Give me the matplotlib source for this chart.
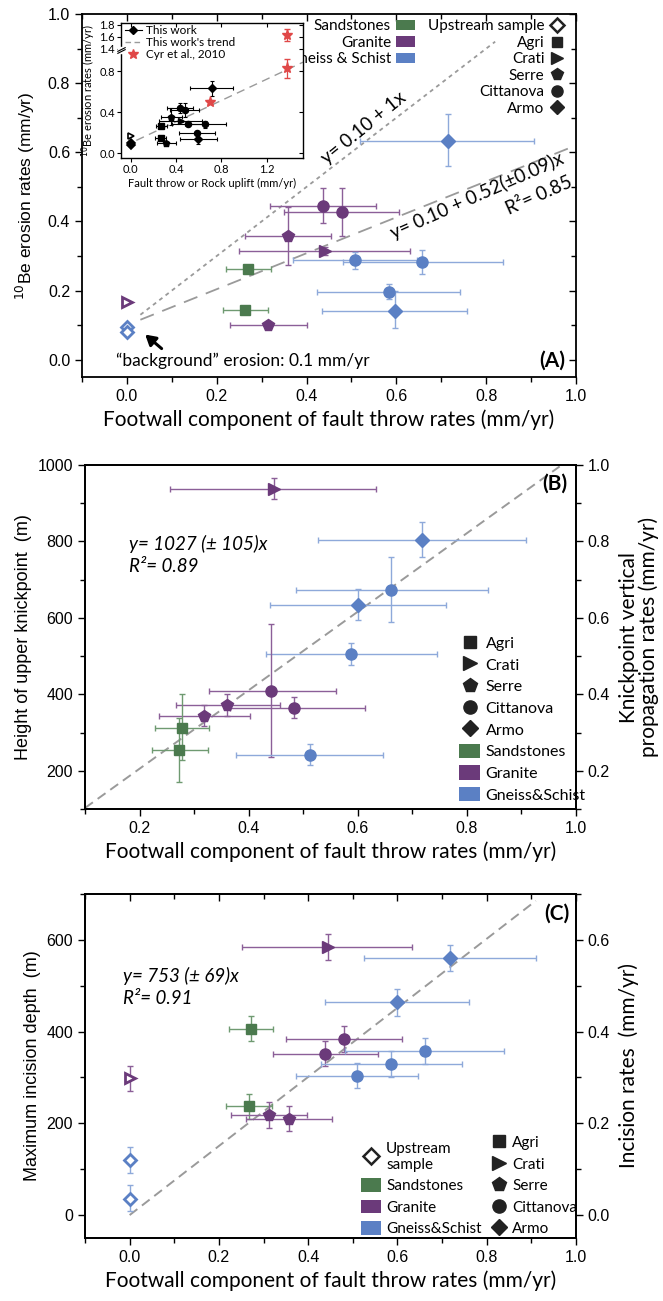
import numpy as np
import matplotlib
matplotlib.use("Agg")
import matplotlib.pyplot as plt
from matplotlib.patches import Patch
from matplotlib.lines import Line2D
from matplotlib.ticker import MultipleLocator, FixedLocator

plt.rcParams['font.family'] = ['Liberation Sans', 'DejaVu Sans']
MY = ['Lato', 'DejaVu Sans']   # stand-in for Myriad

# ---------------- data ----------------
# panel A: 10Be erosion rates vs footwall throw rate
a_x = [0.715, 0.436, 0.479, 0.359, 0.441, 0.507, 0.657, 0.269, 0.584, 0.597, 0.264, 0.315]
a_xlo = [0.52, 0.318, 0.35, 0.264, 0.249, 0.369, 0.481, 0.22, 0.423, 0.435, 0.214, 0.23]
a_xhi = [0.907, 0.554, 0.606, 0.455, 0.63, 0.645, 0.837, 0.32, 0.742, 0.758, 0.315, 0.40]
a_y = [0.634, 0.445, 0.426, 0.358, 0.315, 0.289, 0.282, 0.263, 0.197, 0.14, 0.145, 0.099]
a_ylo = [0.561, 0.395, 0.358, 0.274, 0.303, 0.263, 0.248, 0.253, 0.176, 0.092, 0.137, 0.092]
a_yhi = [0.71, 0.496, 0.496, 0.441, 0.327, 0.313, 0.316, 0.273, 0.218, 0.2, 0.153, 0.106]
a_rock = ['Gneiss', 'Granite', 'Granite', 'Granite', 'Granite', 'Gneiss', 'Gneiss',
          'Sandstones', 'Gneiss', 'Gneiss', 'Sandstones', 'Granite']
a_site = ['Armo', 'Cittanova', 'Cittanova', 'Serre', 'Crati', 'Cittanova', 'Cittanova',
          'Agri', 'Cittanova', 'Armo', 'Agri', 'Serre']
# upstream samples (x = 0)
a_up_y = [0.167, 0.096, 0.080]
a_up_rock = ['Granite', 'Gneiss', 'Gneiss']
a_up_site = ['Crati', 'Armo', 'Armo']

# inset: Cyr et al., 2010
cyr_x = [0.70, 1.38, 1.38]
cyr_y = [0.50, 0.83, 1.63]
cyr_yerr = [0.02, 0.09, 0.10]

# panel B: height of upper knickpoint
b_x = [0.446, 0.717, 0.661, 0.600, 0.588, 0.441, 0.361, 0.484, 0.318, 0.277, 0.272, 0.512]
b_xlo = [0.256, 0.527, 0.486, 0.439, 0.432, 0.327, 0.266, 0.365, 0.235, 0.228, 0.222, 0.377]
b_xhi = [0.634, 0.909, 0.838, 0.761, 0.745, 0.56, 0.457, 0.613, 0.402, 0.327, 0.325, 0.647]
b_y = [937, 804, 674, 635, 506, 409, 373, 365, 343, 313, 255, 242]
b_ylo = [910, 759, 589, 594, 478, 236, 343, 337, 316, 229, 170, 215]
b_yhi = [965, 850, 759, 676, 535, 583, 402, 394, 371, 400, 339, 270]
b_rock = ['Granite', 'Gneiss', 'Gneiss', 'Gneiss', 'Gneiss', 'Granite', 'Granite',
          'Granite', 'Granite', 'Sandstones', 'Sandstones', 'Gneiss']
b_site = ['Crati', 'Armo', 'Cittanova', 'Armo', 'Cittanova', 'Cittanova', 'Serre',
          'Cittanova', 'Serre', 'Agri', 'Agri', 'Cittanova']

# panel C: maximum incision depth
c_x = [0.444, 0.717, 0.599, 0.273, 0.481, 0.438, 0.661, 0.586, 0.509, 0.267, 0.313, 0.356]
c_xlo = [0.252, 0.526, 0.438, 0.222, 0.351, 0.321, 0.483, 0.429, 0.372, 0.217, 0.228, 0.261]
c_xhi = [0.632, 0.911, 0.76, 0.322, 0.61, 0.556, 0.839, 0.744, 0.647, 0.319, 0.397, 0.453]
c_y = [584, 560, 464, 406, 384, 352, 357, 330, 304, 237, 219, 210]
c_ylo = [556, 533, 435, 379, 355, 324, 329, 302, 277, 210, 190, 183]
c_yhi = [612, 588, 493, 435, 413, 379, 385, 357, 332, 264, 247, 237]
c_rock = ['Granite', 'Gneiss', 'Gneiss', 'Sandstones', 'Granite', 'Granite', 'Gneiss',
          'Gneiss', 'Gneiss', 'Sandstones', 'Granite', 'Granite']
c_site = ['Crati', 'Armo', 'Armo', 'Agri', 'Cittanova', 'Cittanova', 'Cittanova',
          'Cittanova', 'Cittanova', 'Agri', 'Serre', 'Serre']
c_up_y = [299, 120, 36]
c_up_ylo = [271, 92, 9]
c_up_yhi = [326, 148, 65]
c_up_rock = ['Granite', 'Gneiss', 'Gneiss']
c_up_site = ['Crati', 'Armo', 'Armo']

# fits
slope_a, icpt_a = 0.52, 0.10
slope_b = 1027
slope_c = 753

# ---------------- styles ----------------
col = {'Sandstones': '#4b7a4e', 'Granite': '#6b3a7a', 'Gneiss': '#5b80c4'}
ecol = {'Sandstones': '#6f9a71', 'Granite': '#8b5f98', 'Gneiss': '#8ea9da'}
mk = {'Agri': 's', 'Crati': '>', 'Serre': 'p', 'Cittanova': 'o', 'Armo': 'D'}
ms = {'Agri': 7.5, 'Crati': 8, 'Serre': 8.5, 'Cittanova': 8, 'Armo': 7}

W, H = 663, 1301


def rect(l, r, t, b):
    return [l / W, 1 - b / H, (r - l) / W, (b - t) / H]


def draw_points(ax, x, xlo, xhi, y, ylo, yhi, rock, site, mono=None, scale=1.0, lw=1.0):
    for i in range(len(x)):
        xe = [[x[i] - xlo[i]], [xhi[i] - x[i]]] if xlo is not None else None
        ye = [[y[i] - ylo[i]], [yhi[i] - y[i]]] if ylo is not None else None
        ec = mono if mono else ecol[rock[i]]
        fc = mono if mono else col[rock[i]]
        ax.errorbar([x[i]], [y[i]], xerr=xe, yerr=ye, fmt='none', ecolor=ec,
                    elinewidth=lw, capsize=2.5 * scale, capthick=lw, zorder=2)
        ax.plot([x[i]], [y[i]], marker=mk[site[i]], ms=ms[site[i]] * scale, mfc=fc,
                mec=fc, ls='none', zorder=3)


def draw_upstream(ax, y, ylo, yhi, rock, site):
    for i in range(len(y)):
        c = col[rock[i]]
        if ylo is not None:
            ax.errorbar([0], [y[i]], yerr=[[y[i] - ylo[i]], [yhi[i] - y[i]]], fmt='none',
                        ecolor=ecol[rock[i]], elinewidth=1.0, capsize=2.5, zorder=2)
        ax.plot([0], [y[i]], marker=mk[site[i]], ms=ms[site[i]] - 0.5, mfc='white',
                mec=c, mew=2.0, ls='none', zorder=3)


def style_ticks(ax):
    ax.tick_params(which='both', direction='out', labelsize=11.5, width=1.0)
    ax.tick_params(which='major', length=5)
    ax.tick_params(which='minor', length=3.5)
    for s in ax.spines.values():
        s.set_linewidth(1.3)


XLAB = 'Footwall component of fault throw rates (mm/yr)'
LEGSIZE = 11.5
fig = plt.figure(figsize=(6.63, 13.01), dpi=100)

# ======================= panel A =======================
axA = fig.add_axes(rect(82, 576, 14, 377))
axA.set_xlim(-0.1, 1.0)
axA.set_ylim(-0.05, 1.0)
xx = np.array([0.03, 0.82])
axA.plot(xx, icpt_a + 1.0 * xx, color='#9a9a9a', lw=1.3, ls=(0, (2.2, 2.2)), zorder=1)
xx = np.array([0.03, 1.0])
axA.plot(xx, icpt_a + slope_a * xx, color='#9a9a9a', lw=1.3, ls=(0, (8, 5)), zorder=1)
draw_points(axA, a_x, a_xlo, a_xhi, a_y, a_ylo, a_yhi, a_rock, a_site)
draw_upstream(axA, a_up_y, None, None, a_up_rock, a_up_site)

axA.xaxis.set_major_locator(MultipleLocator(0.2))
axA.xaxis.set_minor_locator(MultipleLocator(0.1))
axA.yaxis.set_major_locator(MultipleLocator(0.2))
axA.yaxis.set_minor_locator(MultipleLocator(0.1))
axA.xaxis.set_major_formatter(plt.FormatStrFormatter('%.1f'))
axA.yaxis.set_major_formatter(plt.FormatStrFormatter('%.1f'))
style_ticks(axA)
axA.tick_params(which='both', top=True, right=True)
axA.set_xlabel(XLAB, family=MY, fontsize=15, labelpad=4)
axA.set_ylabel(r'$^{10}$Be erosion rates (mm/yr)', fontsize=12.5, labelpad=8)
# inward ticks on top/right
for t in axA.xaxis.get_major_ticks() + axA.xaxis.get_minor_ticks():
    t.tick2line.set_marker(3)
for t in axA.yaxis.get_major_ticks() + axA.yaxis.get_minor_ticks():
    t.tick2line.set_marker(0)

axA.text(0.528, 0.67, 'y= 0.10 + 1x', family=MY, fontsize=13.5, rotation=39,
         ha='center', va='center')
axA.text(0.78, 0.475, 'y= 0.10 + 0.52(±0.09)x', family=MY, fontsize=13.5, rotation=24,
         ha='center', va='center')
axA.text(0.918, 0.476, 'R²= 0.85', family=MY, fontsize=13.5, rotation=24,
         ha='center', va='center')
axA.annotate('', xy=(0.036, 0.078), xytext=(0.082, 0.027),
             arrowprops=dict(arrowstyle='-|>,head_width=0.35,head_length=0.6', color='k', lw=2.2))
axA.text(-0.025, -0.003, '“background” erosion: 0.1 mm/yr', family=MY, fontsize=12.5,
         ha='left', va='center')
axA.text(0.975, -0.003, '(A)', family=MY, fontsize=15, fontweight='bold',
         ha='right', va='center')

leg1 = axA.legend(handles=[Patch(fc=col[k], ec='none') for k in ['Sandstones', 'Granite', 'Gneiss']],
                  labels=['Sandstones', 'Granite', 'Gneiss & Schist'], markerfirst=False,
                  loc='upper right', bbox_to_anchor=(0.675, 0.985), frameon=False,
                  prop={'family': MY, 'size': 11}, handlelength=1.3, handleheight=0.7,
                  handletextpad=0.3, labelspacing=0.16, borderpad=0, borderaxespad=0)
axA.add_artist(leg1)
h2 = [Line2D([], [], marker='D', ls='none', mfc='white', mec='#222222', mew=1.8, ms=7)]
h2 += [Line2D([], [], marker=mk[s], ls='none', color='#222222', ms=ms[s])
       for s in ['Agri', 'Crati', 'Serre', 'Cittanova', 'Armo']]
axA.legend(handles=h2, labels=['Upstream sample', 'Agri', 'Crati', 'Serre', 'Cittanova', 'Armo'],
           markerfirst=False, loc='upper right', bbox_to_anchor=(0.975, 0.985), frameon=False,
           prop={'family': MY, 'size': 11}, handlelength=0.9, handletextpad=0.35,
           labelspacing=0.16, borderpad=0, borderaxespad=0)

# ----------------------- inset -----------------------
def fwd(y):
    y = np.asarray(y, dtype=float)
    return np.where(y < 1.0, y, np.where(y < 1.4, 1.0 + (y - 1.0) * 0.05, 1.02 + (y - 1.4) * 0.585))


def inv(u):
    u = np.asarray(u, dtype=float)
    return np.where(u < 1.0, u, np.where(u < 1.02, 1.0 + (u - 1.0) / 0.05, 1.4 + (u - 1.02) / 0.585))


axI = fig.add_axes(rect(121, 303, 23, 158))
axI.set_yscale('function', functions=(fwd, inv))
axI.set_xlim(-0.085, 1.52)
axI.set_ylim(-0.046, 1.833)
xx = np.array([0.05, 1.52])
axI.plot(xx, icpt_a + slope_a * xx, color='#9a9a9a', lw=1.0, ls=(0, (6, 4)), zorder=1)
draw_points(axI, a_x, a_xlo, a_xhi, a_y, a_ylo, a_yhi, a_rock, a_site, mono='k',
            scale=0.55, lw=0.8)
for i in range(len(a_up_y)):
    face = 'white' if a_up_site[i] == 'Crati' else 'k'
    axI.plot([0], [a_up_y[i]], marker=mk[a_up_site[i]], ms=4.5, mfc=face, mec='k', mew=1.2,
             ls='none', zorder=3)
axI.errorbar(cyr_x, cyr_y, yerr=cyr_yerr, fmt='none', ecolor='#e04848', elinewidth=0.9,
             capsize=2, zorder=2)
axI.plot(cyr_x, cyr_y, marker='*', ms=8, color='#e04848', ls='none', zorder=3)
axI.xaxis.set_major_locator(FixedLocator([0.0, 0.4, 0.8, 1.2]))
axI.yaxis.set_major_locator(FixedLocator([0.0, 0.4, 0.8, 1.4, 1.6, 1.8]))
axI.yaxis.set_minor_locator(FixedLocator([]))
axI.xaxis.set_major_formatter(plt.FormatStrFormatter('%.1f'))
axI.yaxis.set_major_formatter(plt.FormatStrFormatter('%.1f'))
axI.tick_params(which='both', direction='out', labelsize=8, length=3, width=0.8, pad=1.5,
                top=True, right=True)
for t in axI.xaxis.get_major_ticks():
    t.tick2line.set_marker(3)
for t in axI.yaxis.get_major_ticks():
    t.tick2line.set_marker(0)
for lab in axI.get_xticklabels() + axI.get_yticklabels():
    lab.set_family(MY)
for s in axI.spines.values():
    s.set_linewidth(1.0)
axI.set_xlabel('Fault throw or Rock uplift (mm/yr)', family=MY, fontsize=8, labelpad=2)
axI.set_ylabel(r'$^{10}$Be erosion rates (mm/yr)', family=MY, fontsize=8, labelpad=1)
# axis break mark
ytr = axI.get_yaxis_transform()
axI.plot([0], [1.2], marker='s', ms=4, mfc='white', mec='white', transform=ytr,
         clip_on=False, zorder=5)
for off in (1.09, 1.33):
    axI.plot([0], [off], marker=[(-1, -0.5), (1, 0.5)], ms=6, mec='k', mew=0.8,
             transform=ytr, clip_on=False, zorder=6)
hI = [Line2D([], [], marker='D', color='k', ms=4.5, ls='-', lw=0.8),
      Line2D([], [], color='#9a9a9a', ls=(0, (4, 2.5)), lw=1.0),
      Line2D([], [], marker='*', color='#e04848', ms=7, ls='none')]
axI.legend(handles=hI, labels=['This work', "This work's trend", 'Cyr et al., 2010'],
           loc='upper left', bbox_to_anchor=(0.02, 0.985), frameon=False,
           prop={'family': MY, 'size': 8.5}, handlelength=1.5, handletextpad=0.3,
           labelspacing=0.1, borderpad=0, borderaxespad=0)

# ======================= panel B =======================
axB = fig.add_axes(rect(85, 576, 465, 809))
axB.set_xlim(0.1, 1.0)
axB.set_ylim(100, 1000)
xx = np.array([0.1, 0.97])
axB.plot(xx, slope_b * xx, color='#9a9a9a', lw=1.4, ls=(0, (5, 3)), zorder=1)
draw_points(axB, b_x, b_xlo, b_xhi, b_y, b_ylo, b_yhi, b_rock, b_site)
axB.xaxis.set_major_locator(MultipleLocator(0.2))
axB.xaxis.set_minor_locator(MultipleLocator(0.1))
axB.yaxis.set_major_locator(MultipleLocator(200))
axB.yaxis.set_minor_locator(MultipleLocator(100))
axB.xaxis.set_major_formatter(plt.FormatStrFormatter('%.1f'))
style_ticks(axB)
axB.set_xlabel(XLAB, family=MY, fontsize=15, labelpad=4)
axB.set_ylabel('Height of upper knickpoint  (m)', fontsize=13, labelpad=4)
axB.text(0.18, 793, 'y= 1027 (± 105)x', family=MY, fontsize=13.5, style='italic',
         ha='left', va='center')
axB.text(0.18, 735, 'R²= 0.89', family=MY, fontsize=13.5, style='italic',
         ha='left', va='center')
axB.text(0.985, 952, '(B)', family=MY, fontsize=15, fontweight='bold', ha='right', va='center')
axBr = axB.twinx()
axBr.set_ylim(0.1, 1.0)
axBr.yaxis.set_major_locator(MultipleLocator(0.2))
axBr.yaxis.set_minor_locator(MultipleLocator(0.1))
axBr.yaxis.set_major_formatter(plt.FormatStrFormatter('%.1f'))
style_ticks(axBr)
axBr.set_ylabel('Knickpoint vertical\npropagation rates (mm/yr)', family=MY, fontsize=15,
                linespacing=1.0, labelpad=6)
hB = [Line2D([], [], marker=mk[s], ls='none', color='#222222', ms=ms[s] + 1.5)
      for s in ['Agri', 'Crati', 'Serre', 'Cittanova', 'Armo']]
hB += [Patch(fc=col[k], ec='none') for k in ['Sandstones', 'Granite', 'Gneiss']]
axB.legend(handles=hB, labels=['Agri', 'Crati', 'Serre', 'Cittanova', 'Armo', 'Sandstones',
                               'Granite', 'Gneiss&Schist'],
           loc='upper left', bbox_to_anchor=(0.762, 0.505), frameon=False,
           prop={'family': MY, 'size': LEGSIZE}, handlelength=1.3, handleheight=1.0,
           handletextpad=0.35, labelspacing=0.38, borderpad=0, borderaxespad=0)

# ======================= panel C =======================
axC = fig.add_axes(rect(85, 576, 894, 1238))
axC.set_xlim(-0.1, 1.0)
axC.set_ylim(-50, 700)
xx = np.array([0.0, 0.91])
axC.plot(xx, slope_c * xx, color='#9a9a9a', lw=1.4, ls=(0, (5, 3)), zorder=1)
draw_points(axC, c_x, c_xlo, c_xhi, c_y, c_ylo, c_yhi, c_rock, c_site)
draw_upstream(axC, c_up_y, c_up_ylo, c_up_yhi, c_up_rock, c_up_site)
axC.xaxis.set_major_locator(MultipleLocator(0.2))
axC.xaxis.set_minor_locator(MultipleLocator(0.1))
axC.yaxis.set_major_locator(MultipleLocator(200))
axC.yaxis.set_minor_locator(MultipleLocator(100))
axC.xaxis.set_major_formatter(plt.FormatStrFormatter('%.1f'))
style_ticks(axC)
axC.tick_params(axis='x', which='both', top=True)
for t in axC.xaxis.get_major_ticks() + axC.xaxis.get_minor_ticks():
    t.tick2line.set_marker(3)
axC.set_xlabel(XLAB, family=MY, fontsize=15, labelpad=4)
axC.set_ylabel('Maximum incision depth  (m)', fontsize=13, labelpad=4)
axC.text(-0.015, 522, 'y= 753 (± 69)x', family=MY, fontsize=13.5, style='italic',
         ha='left', va='center')
axC.text(-0.015, 473, 'R²= 0.91', family=MY, fontsize=13.5, style='italic',
         ha='left', va='center')
axC.text(0.985, 658, '(C)', family=MY, fontsize=15, fontweight='bold', ha='right', va='center')
axCr = axC.twinx()
axCr.set_ylim(-0.05, 0.7)
axCr.yaxis.set_major_locator(MultipleLocator(0.2))
axCr.yaxis.set_minor_locator(MultipleLocator(0.1))
axCr.yaxis.set_major_formatter(plt.FormatStrFormatter('%.1f'))
style_ticks(axCr)
axCr.set_ylabel('Incision rates  (mm/yr)', family=MY, fontsize=15, labelpad=6)
hC1 = [Line2D([], [], marker='D', ls='none', mfc='white', mec='#222222', mew=1.8, ms=8)]
hC1 += [Patch(fc=col[k], ec='none') for k in ['Sandstones', 'Granite', 'Gneiss']]
legC = axC.legend(handles=hC1, labels=['Upstream\nsample', 'Sandstones', 'Granite', 'Gneiss&Schist'],
                  loc='lower left', bbox_to_anchor=(0.562, 0.005), frameon=False,
                  prop={'family': MY, 'size': 11}, handlelength=1.3, handleheight=1.0,
                  handletextpad=0.35, labelspacing=0.42, borderpad=0, borderaxespad=0)
axC.add_artist(legC)
hC2 = [Line2D([], [], marker=mk[s], ls='none', color='#222222', ms=ms[s] + 1.5)
       for s in ['Agri', 'Crati', 'Serre', 'Cittanova', 'Armo']]
axC.legend(handles=hC2, labels=['Agri', 'Crati', 'Serre', 'Cittanova', 'Armo'],
           loc='lower left', bbox_to_anchor=(0.83, 0.005), frameon=False,
           prop={'family': MY, 'size': 11}, handlelength=0.9, handleheight=1.0,
           handletextpad=0.4, labelspacing=0.42, borderpad=0, borderaxespad=0)

fig.savefig('out.png', dpi=100)
